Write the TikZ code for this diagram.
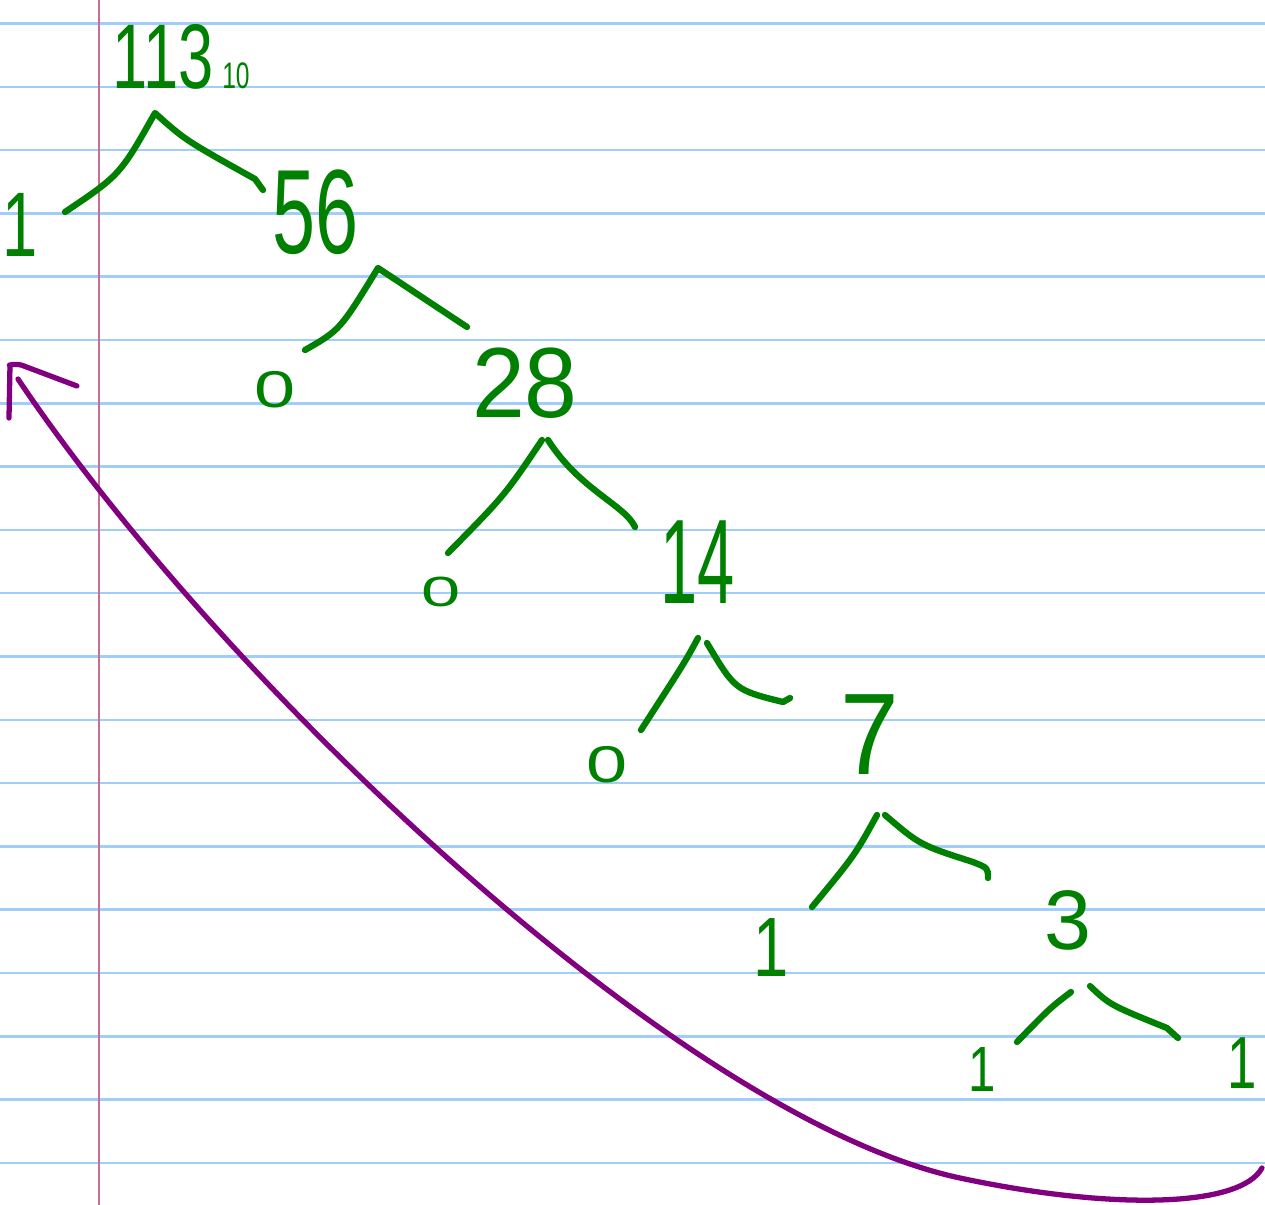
\documentclass[tikz,border=0pt]{standalone}
\usepackage{fontspec}
\setmainfont{Liberation Sans}
\usepackage{tikz}
\usepackage{xcolor}
\usepackage{graphicx}
\usetikzlibrary{positioning}
\definecolor{inkgreen}{RGB}{0,128,0}
\definecolor{inkpurple}{RGB}{128,0,128}
\definecolor{ruleblue}{RGB}{160,205,250}
\definecolor{marginpink}{RGB}{200,110,150}
\newcommand{\fs}[1]{\fontsize{#1}{#1}\selectfont}
\newcommand{\hw}[2]{\scalebox{1}[#1]{#2}}
\tikzstyle{digit} = [text=inkgreen, inner sep=0pt]
\tikzstyle{branch} = [draw=inkgreen, line width=1.8pt, line cap=round, line join=round]
\tikzstyle{backarrow} = [draw=inkpurple, line width=1.5pt, line cap=round, line join=round]
\tikzstyle{ruling} = [draw=ruleblue, line width=0.7pt]
\tikzstyle{margin} = [draw=marginpink, line width=0.7pt]

\begin{document}
\begin{tikzpicture}[x=0.01cm, y=-0.01cm]
        \useasboundingbox (0,0) rectangle (1265,1205);

        % --- Papel de cuaderno ---
        \foreach \k in {0,...,18}
            \draw [ruling] (0,{23.5+63.3*\k}) -- (1265,{23.5+63.3*\k});
        \draw [margin] (99,0) -- (99,1205);

        % --- Cocientes y restos ---
        \node (n113) [digit, font=\fs{18}] at (163,57) {\hw{1.45}{113}};
        \node (base) [digit, font=\fs{7}] at (236,76) {\hw{1.5}{10}};
        \node (r1) [digit, font=\fs{18}] at (20,225) {\hw{1.45}{1}};
        \node (n56) [digit, font=\fs{22}] at (316,212) {\hw{1.55}{56}};
        \node (r2) [digit, font=\fs{21}] at (275,390) {\hw{0.7}{0}};
        \node (n28) [digit, font=\fs{27}] at (525,383) {\hw{1.05}{28}};
        \node (r3) [digit, font=\fs{20}] at (441,592) {\hw{0.6}{0}};
        \node (n14) [digit, font=\fs{19}] at (698,562) {\hw{1.8}{14}};
        \node (r4) [digit, font=\fs{21}] at (607,765) {\hw{0.7}{0}};
        \node (n7) [digit, font=\fs{30}] at (870,735) {\hw{1.1}{7}};
        \node (r5) [digit, font=\fs{18}] at (771,948) {\hw{1.33}{1}};
        \node (n3) [digit, font=\fs{24}] at (1068,920) {\hw{1}{3}};
        \node (r6) [digit, font=\fs{14}] at (982,1069) {\hw{1.3}{1}};
        \node (r7) [digit, font=\fs{15}] at (1242,1063) {\hw{1.4}{1}};

        % --- Ramas ---
        \coordinate (a1) at (155,113);
        \coordinate (a1l) at (65,212);
        \coordinate (a1r) at (263,190);
        \draw [branch] (a1l) .. controls (120,175) .. (a1)
            .. controls (185,140) .. (255,179) -- (a1r);

        \coordinate (a2) at (378,268);
        \coordinate (a2l) at (305,350);
        \coordinate (a2r) at (467,327);
        \draw [branch] (a2l) .. controls (340,330) .. (a2) -- (a2r);

        \coordinate (a3l) at (448,553);
        \coordinate (a3lt) at (542,440);
        \coordinate (a3rt) at (548,440);
        \coordinate (a3r) at (635,527);
        \draw [branch] (a3l) .. controls (505,495) .. (a3lt);
        \draw [branch] (a3rt) .. controls (580,490) and (625,505) .. (a3r);

        \coordinate (a4l) at (641,730);
        \coordinate (a4lt) at (698,638);
        \coordinate (a4rt) at (707,643);
        \coordinate (a4r) at (790,698);
        \draw [branch] (a4l) .. controls (685,662) .. (a4lt);
        \draw [branch] (a4rt) .. controls (735,690) .. (783,702) -- (a4r);

        \coordinate (a5l) at (812,907);
        \coordinate (a5lt) at (877,815);
        \coordinate (a5rt) at (885,815);
        \coordinate (a5r) at (988,878);
        \draw [branch] (a5l) .. controls (855,855) .. (a5lt);
        \draw [branch] (a5rt) .. controls (920,845) .. (973,862) .. controls (988,868) .. (a5r);

        \coordinate (a6l) at (1017,1042);
        \coordinate (a6lt) at (1071,992);
        \coordinate (a6rt) at (1090,986);
        \coordinate (a6r) at (1178,1038);
        \draw [branch] (a6l) .. controls (1050,1008) .. (a6lt);
        \draw [branch] (a6rt) .. controls (1110,1005) .. (1167,1028) -- (a6r);

        % --- Flecha de lectura (de abajo hacia arriba) ---
        \coordinate (tail) at (1262,1168);
        \coordinate (bend) at (960,1178);
        \coordinate (head) at (18,379);
        \draw [backarrow] (tail) .. controls (1240,1208) and (1110,1210) .. (bend)
            .. controls (680,1118) and (220,680) .. (head);
        \coordinate (tip) at (10,365);
        \coordinate (barbl) at (9,418);
        \coordinate (barbr) at (77,386);
        \draw [backarrow] (barbl) -- (tip) [rounded corners=2pt] -- (16,363) -- (barbr);

\end{tikzpicture}
\end{document}
